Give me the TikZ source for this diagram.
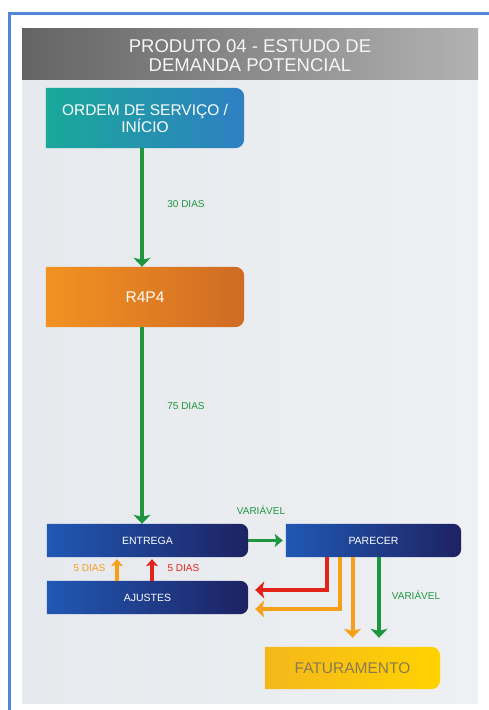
\documentclass[tikz,border=0pt]{standalone}
\usepackage{fontspec}
\setmainfont{Liberation Sans}
\usetikzlibrary{arrows.meta,backgrounds}
\definecolor{frameblue}{HTML}{4F86D8}
\definecolor{gA}{HTML}{1E9640}
\definecolor{rA}{HTML}{E2231A}
\definecolor{oA}{HTML}{F6A01A}
\definecolor{tealL}{HTML}{19A89A}
\definecolor{tealR}{HTML}{2F7FC2}
\definecolor{orL}{HTML}{F39222}
\definecolor{orR}{HTML}{CF6B24}
\definecolor{nvL}{HTML}{2058B4}
\definecolor{nvR}{HTML}{1E2262}
\definecolor{yeL}{HTML}{F4B81C}
\definecolor{yeR}{HTML}{FFD200}
\definecolor{fattext}{HTML}{8C7A52}
\definecolor{panL}{HTML}{E6E9ED}
\definecolor{panM}{HTML}{FBFBFC}
\definecolor{panR}{HTML}{EEF0F3}
\definecolor{titL}{HTML}{646464}
\definecolor{titR}{HTML}{B2B2B2}
\newcommand\rbox[3]{\shade[#3] (#1.south west) -- (#1.north west) -- ([xshift=-#2]#1.north east) arc[start angle=90,end angle=0,radius=#2] -- ([yshift=#2]#1.south east) arc[start angle=0,end angle=-90,radius=#2] -- cycle;}
\begin{document}
\begin{tikzpicture}[x=1pt,y=1pt,
  boxn/.style={inner sep=0pt, align=center, text=white},
  bigtxt/.style={font=\fontsize{15.5}{17}\selectfont},
  smalltxt/.style={font=\fontsize{10.5}{12}\selectfont},
  lbl/.style={inner sep=0pt, font=\fontsize{10}{12}\selectfont},
  conn/.style={line width=4pt, -{Stealth[width=17pt,length=9pt,inset=2pt]}},
  hconn/.style={line width=3pt, -{Stealth[width=13pt,length=8pt,inset=1.5pt]}},
  upconn/.style={line width=3.5pt, -{Stealth[width=12pt,length=7pt,inset=1.5pt]}}]
\useasboundingbox (0,0) rectangle (489,710);
% frame
\draw[frameblue, line width=3pt] (9.5,0) -- (9.5,696.5) -- (489,696.5);
% nodes
\node[boxn, text=white!96!black, font=\fontsize{18.5}{19}\selectfont] (title) at (250,654.5) {PRODUTO 04 - ESTUDO DE\\DEMANDA POTENCIAL};
\node[boxn, bigtxt, minimum width=198pt, minimum height=60pt] (ordem) at (145,592) {ORDEM DE SERVIÇO /\\INÍCIO};
\node[boxn, bigtxt, minimum width=198pt, minimum height=60pt] (r4p4) at (145,413) {R4P4};
\node[boxn, smalltxt, minimum width=201pt, minimum height=33pt] (entrega) at (147.5,169.5) {ENTREGA};
\node[boxn, smalltxt, minimum width=201pt, minimum height=33pt] (ajustes) at (147.5,112.5) {AJUSTES};
\node[boxn, smalltxt, minimum width=175pt, minimum height=33pt] (parecer) at (373.5,169.5) {PARECER};
\node[boxn, bigtxt, text=fattext, minimum width=175pt, minimum height=42pt] (fat) at (352.5,42) {FATURAMENTO};
% labels
\node[lbl, text=gA] (l30) at (186,506) {30 DIAS};
\node[lbl, text=gA] (l75) at (186,304) {75 DIAS};
\node[lbl, text=gA] (lvar1) at (261,200) {VARIÁVEL};
\node[lbl, text=gA] (lvar2) at (416,115) {VARIÁVEL};
\node[lbl, text=oA] (l5o) at (89.5,142) {5 DIAS};
\node[lbl, text=rA] (l5r) at (183.5,142) {5 DIAS};
% background shapes
\begin{scope}[on background layer]
  \shade[left color=panL, middle color=panM, right color=panR] (22,6) rectangle (478,681);
  \shade[left color=titL, right color=titR] (22,630) rectangle (478,681);
  \rbox{ordem}{9pt}{left color=tealL, right color=tealR}
  \rbox{r4p4}{9pt}{left color=orL, right color=orR}
  \rbox{entrega}{8pt}{left color=nvL, right color=nvR}
  \rbox{ajustes}{8pt}{left color=nvL, right color=nvR}
  \rbox{parecer}{8pt}{left color=nvL, right color=nvR}
  \rbox{fat}{9pt}{left color=yeL, right color=yeR}
\end{scope}
% coordinates
\coordinate (col) at (142,0);
\coordinate (redS) at (327,153);
\coordinate (orS) at (339.5,153);
\coordinate (grS) at (379,153);
% connectors
\draw[conn, gA] (col |- ordem.south) -- (col |- r4p4.north);
\draw[conn, gA] (col |- r4p4.south) -- (col |- entrega.north);
\draw[hconn, gA] (entrega.east) -- ([xshift=-3pt]parecer.west);
\draw[upconn, oA] ([xshift=-30.5pt]ajustes.north) -- ([xshift=-30.5pt,yshift=-2pt]entrega.south);
\draw[upconn, rA] ([xshift=4.5pt]ajustes.north) -- ([xshift=4.5pt,yshift=-2pt]entrega.south);
\draw[conn, rA] (redS) |- ([xshift=7pt,yshift=7.5pt]ajustes.east);
\draw[conn, oA] (orS) |- ([xshift=7pt,yshift=-11.5pt]ajustes.east);
\draw[conn, oA, shorten >=9pt] (fat.north |- parecer.south) -- (fat.north);
\draw[conn, gA, shorten >=9pt] (grS) -- (grS |- fat.north);
\end{tikzpicture}
\end{document}
